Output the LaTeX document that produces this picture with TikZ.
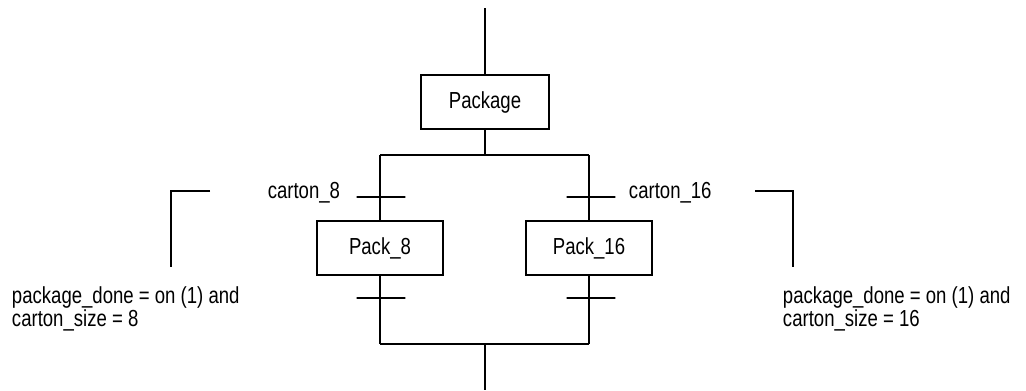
\documentclass[tikz,border=0pt]{standalone}
\usepackage{fontspec}
\setmainfont{Liberation Sans}[FakeStretch=0.8]
\usepackage{tikz}
\usetikzlibrary{positioning, calc}

\begin{document}
\begin{tikzpicture}[x=0.025cm, y=-0.025cm, line width=1.4pt,
  stepbox/.style={draw, rectangle, minimum width=3.15cm, minimum height=1.35cm, inner sep=0pt},
  trans/.style={draw, rectangle, minimum width=1.22cm, minimum height=0pt, inner sep=0pt},
  lab/.style={inner sep=0pt, font=\fontsize{16.5}{16.4}\selectfont}]
\useasboundingbox (0,0) rectangle (1026,390);

% Steps
\node[stepbox, minimum width=3.2cm, lab] (package) at (485,102) {Package};
\node[stepbox, lab] (pack8) at (380,248) {Pack\_8};
\node[stepbox, lab] (pack16) at (589,248) {Pack\_16};

% Branch points
\coordinate (in) at (485,8);
\coordinate (div) at (485,155);
\coordinate (divL) at (380,155);
\coordinate (divR) at (589,155);
\coordinate (join) at (485,344);
\coordinate (joinL) at (380,344);
\coordinate (joinR) at (589,344);
\coordinate (out) at (485,390);

% Transitions
\node[trans] (t8) at (381,197) {};
\node[trans] (t16) at (591,197) {};
\node[trans] (d8) at (381,298) {};
\node[trans] (d16) at (591,298) {};

% Links
\draw (in) -- (package.north);
\draw (package.south) -- (div);
\draw (divL) -- (divR);
\draw (divL) -- (pack8.north);
\draw (divR) -- (pack16.north);
\draw (pack8.south) -- (joinL);
\draw (pack16.south) -- (joinR);
\draw (joinL) -- (joinR);
\draw (join) -- (out);

% Labels
\node[lab, anchor=base east] (c8) at (341,198) {carton\_8};
\node[lab, anchor=base west] (c16) at (628,198) {carton\_16};

% Conditions
\coordinate (b8a) at (210,191);
\coordinate (b8b) at (171,191);
\coordinate (b8c) at (171,267);
\draw (b8a) -- (b8b) -- (b8c);
\coordinate (b16a) at (755,191);
\coordinate (b16b) at (793,191);
\coordinate (b16c) at (793,267);
\draw (b16a) -- (b16b) -- (b16c);

\node[lab, anchor=north west, align=left] (cond8) at (11,286)
  {package\_done = on (1) and\\carton\_size = 8};
\node[lab, anchor=north west, align=left] (cond16) at (782,286)
  {package\_done = on (1) and\\carton\_size = 16};

\end{tikzpicture}
\end{document}
